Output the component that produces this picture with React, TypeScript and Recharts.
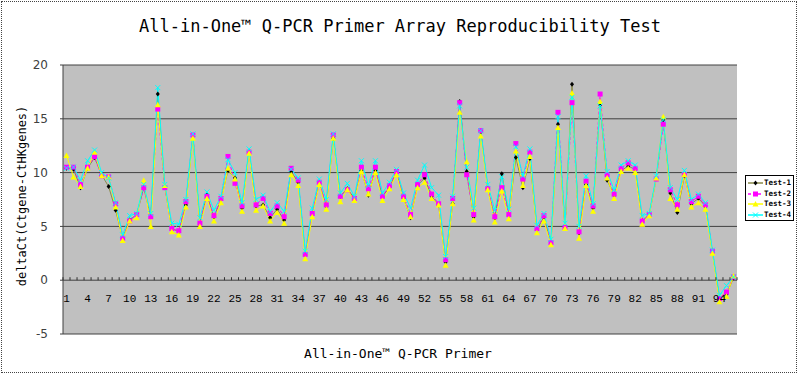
import { CartesianGrid, Line, LineChart, XAxis, YAxis } from "recharts";

const primers = Array.from({ length: 96 }, (_, i) => String(i + 1));

const test1 = [
  10.4, 10.3, 8.6, 10.4, 11.4, 9.8, 8.7, 6.5, 3.9, 5.6, 6.1, 8.6, 5.9, 17.3, 8.7, 4.8,
  4.5, 7.0, 13.4, 5.3, 7.9, 5.9, 7.5, 10.2, 9.5, 6.7, 12.0, 6.9, 7.0, 5.8, 6.6, 5.6,
  10.1, 9.1, 2.4, 6.2, 9.0, 6.9, 13.2, 7.8, 8.5, 7.6, 10.2, 7.9, 10.2, 7.8, 8.6, 10.1,
  7.6, 5.8, 8.8, 9.5, 7.8, 7.0, 1.7, 7.1, 16.6, 10.1, 5.9, 13.8, 8.5, 5.8, 9.9, 6.0,
  11.4, 8.6, 11.3, 4.7, 5.9, 3.4, 14.5, 4.8, 18.2, 4.4, 8.9, 6.7, 16.3, 9.3, 7.9, 10.2,
  10.6, 10.3, 5.5, 6.1, 9.5, 14.9, 8.1, 6.3, 9.7, 7.1, 7.6, 6.9, 2.6, -1.7, -1.3, 0.2,
];
const test2 = [
  10.5, 10.5, 8.9, 10.5, 11.5, 9.7, 9.6, 7.1, 3.9, 5.5, 6.1, 8.6, 5.9, 15.9, 8.6, 4.8,
  4.6, 7.3, 13.5, 5.3, 7.8, 6.0, 7.6, 11.5, 9.0, 6.9, 11.9, 7.0, 7.6, 6.2, 6.9, 5.9,
  10.4, 9.3, 2.4, 6.2, 9.1, 7.0, 13.5, 7.8, 8.4, 7.6, 10.5, 8.5, 10.5, 7.8, 8.8, 10.1,
  7.8, 6.1, 8.9, 9.8, 8.0, 7.1, 1.9, 7.6, 16.5, 9.8, 6.1, 13.9, 8.5, 5.9, 8.6, 6.1,
  12.7, 9.4, 11.9, 4.8, 6.0, 3.5, 15.6, 4.9, 16.5, 4.5, 9.2, 6.9, 17.3, 9.8, 8.0, 10.4,
  10.9, 10.4, 5.5, 6.1, 9.4, 14.5, 8.4, 7.0, 9.8, 7.3, 7.8, 7.0, 2.7, -1.7, -1.1, 0.3,
];
const test3 = [
  11.6, 9.6, 8.7, 10.4, 11.9, 9.7, 9.6, 6.8, 3.7, 5.5, 5.8, 9.3, 5.0, 16.3, 8.8, 4.5,
  4.2, 6.8, 13.2, 5.0, 7.6, 5.5, 7.2, 10.4, 9.4, 6.4, 11.8, 6.5, 6.9, 5.5, 6.3, 5.3,
  9.8, 8.8, 2.0, 5.9, 8.9, 6.6, 13.2, 7.3, 8.4, 7.4, 10.1, 8.0, 10.0, 7.4, 8.5, 9.8,
  7.5, 5.9, 8.6, 9.1, 7.6, 7.0, 1.4, 7.1, 15.6, 11.0, 5.6, 13.4, 8.4, 5.4, 8.3, 5.7,
  12.0, 8.8, 11.5, 4.4, 5.5, 3.3, 14.2, 4.8, 17.4, 3.9, 8.8, 6.4, 16.6, 9.5, 7.6, 10.1,
  10.4, 10.0, 5.2, 6.0, 9.5, 15.2, 7.6, 6.6, 9.8, 6.8, 7.2, 6.6, 2.5, -2.0, -1.5, 0.4,
];
const test4 = [
  10.4, 10.5, 9.3, 11.1, 12.1, 10.0, 9.5, 7.2, 4.2, 6.0, 6.2, 8.9, 6.2, 17.9, 8.9, 5.3,
  5.2, 7.5, 13.6, 5.8, 8.2, 6.5, 7.8, 11.2, 10.0, 7.2, 12.2, 7.5, 7.9, 6.4, 7.2, 6.4,
  10.3, 9.5, 2.7, 6.7, 9.4, 7.5, 13.6, 8.1, 9.0, 7.8, 11.1, 8.8, 11.1, 8.1, 9.1, 10.3,
  8.1, 6.7, 9.3, 10.7, 8.6, 7.9, 2.2, 7.8, 16.2, 10.5, 6.7, 13.9, 8.9, 6.5, 9.6, 6.6,
  12.4, 9.7, 12.2, 5.1, 6.2, 3.8, 15.2, 5.3, 17.0, 5.0, 9.7, 7.1, 16.2, 10.1, 8.4, 10.7,
  11.1, 10.7, 6.0, 6.2, 9.7, 14.9, 8.6, 7.5, 10.2, 7.5, 8.0, 7.2, 2.8, -1.4, -0.5, 0.3,
];

const yTicks = [-5, 0, 5, 10, 15, 20];

const data = primers.map((p, i) => ({
  primer: p,
  t1: test1[i],
  t2: test2[i],
  t3: test3[i],
  t4: test4[i],
}));

// layout
const PLOT_TOP = 65;
const PLOT_BOTTOM = 334;
const Y_ZERO = PLOT_TOP + ((PLOT_BOTTOM - PLOT_TOP) * 20) / 25;
const STEP = 7.02;

const series = [
  { key: "t1", name: "Test-1", color: "#8a8a4a", marker: "diamond", dash: undefined },
  { key: "t2", name: "Test-2", color: "#ff00ff", marker: "square", dash: "3 2" },
  { key: "t3", name: "Test-3", color: "#ffff00", marker: "triangle", dash: undefined },
  { key: "t4", name: "Test-4", color: "#00ffff", marker: "cross", dash: undefined },
];

function Marker({ kind, cx, cy }: { kind: string; cx: number; cy: number }) {
  if (cx == null || cy == null) return null;
  if (kind === "diamond")
    return (
      <path d={`M${cx},${cy - 2.5}L${cx + 2},${cy}L${cx},${cy + 2.5}L${cx - 2},${cy}Z`} fill="#000" />
    );
  if (kind === "square")
    return <rect x={cx - 2.5} y={cy - 2.5} width={5} height={5} fill="#ff00ff" />;
  if (kind === "triangle")
    return <path d={`M${cx},${cy - 3}L${cx + 3},${cy + 2.5}L${cx - 3},${cy + 2.5}Z`} fill="#ffff00" />;
  return (
    <path
      d={`M${cx - 2.5},${cy - 2.5}L${cx + 2.5},${cy + 2.5}M${cx + 2.5},${cy - 2.5}L${cx - 2.5},${cy + 2.5}`}
      stroke="#00ffff"
      strokeWidth={1}
    />
  );
}

function XTick(props: any) {
  const { x, index, payload } = props;
  const bx = x - STEP / 2;
  return (
    <g>
      <line x1={bx} x2={bx} y1={Y_ZERO} y2={Y_ZERO - 3} stroke="#303030" />
      {index === primers.length - 1 && (
        <line x1={x + STEP / 2} x2={x + STEP / 2} y1={Y_ZERO} y2={Y_ZERO - 3} stroke="#303030" />
      )}
      {index % 3 === 0 && (
        <text
          x={x}
          y={Y_ZERO + 22}
          textAnchor="middle"
          fontFamily="Liberation Mono"
          fontSize={11}
          fill="#000"
        >
          {payload.value}
        </text>
      )}
    </g>
  );
}

function LegendBox() {
  return (
    <div
      style={{
        position: "absolute",
        left: 745,
        top: 175,
        width: 49,
        height: 46,
        border: "1px solid #000",
        background: "#fff",
        boxSizing: "border-box",
        paddingTop: 2,
      }}
    >
      {series.map((s) => (
        <div
          key={s.key}
          style={{ display: "flex", alignItems: "center", height: 10.5, whiteSpace: "nowrap" }}
        >
          <svg width={18} height={10} style={{ flex: "none" }}>
            <line x1={2} x2={17} y1={5} y2={5} stroke={s.color} strokeWidth={1.5} strokeDasharray={s.dash} />
            <Marker kind={s.marker} cx={9.5} cy={5} />
          </svg>
          <span
            style={{
              fontFamily: "DejaVu Sans Mono",
              fontSize: 7.5,
              fontWeight: "bold",
              color: "#000",
              lineHeight: "10px",
            }}
          >
            {s.name}
          </span>
        </div>
      ))}
    </div>
  );
}

export default function App() {
  return (
    <div style={{ position: "absolute", left: 0, top: 0, width: 800, height: 378, background: "#fff" }}>
      <div
        style={{
          position: "absolute",
          left: 1,
          top: 1,
          width: 796,
          height: 372,
          border: "1px dotted #444",
          boxSizing: "border-box",
        }}
      />
      <div
        style={{
          position: "absolute",
          left: 0,
          top: 16,
          width: 800,
          textAlign: "center",
          fontFamily: "DejaVu Sans Mono",
          fontSize: 17,
          color: "#000",
        }}
      >
        All-in-One™ Q-PCR Primer Array Reproducibility Test
      </div>
      <div
        style={{
          position: "absolute",
          left: 22,
          top: 196,
          transform: "translate(-50%, -50%) rotate(-90deg)",
          whiteSpace: "nowrap",
          fontFamily: "DejaVu Sans Mono",
          fontSize: 12,
          color: "#000",
        }}
      >
        deltaCt(Ctgene-CtHKgenes)
      </div>
      <div
        style={{
          position: "absolute",
          left: 0,
          top: 346,
          width: 796,
          textAlign: "center",
          fontFamily: "DejaVu Sans Mono",
          fontSize: 13,
          color: "#000",
        }}
      >
        All-in-One™ Q-PCR Primer
      </div>
      <div style={{ position: "absolute", left: 0, top: 0 }}>
        <LineChart
          width={800}
          height={378}
          data={data}
          margin={{ top: PLOT_TOP, right: 63, bottom: 14, left: 13 }}
        >
          <CartesianGrid vertical={false} stroke="#404040" fill="#c0c0c0" fillOpacity={1} />
          <XAxis
            dataKey="primer"
            interval={0}
            height={30}
            axisLine={false}
            tickLine={false}
            padding={{ left: 3.5, right: 3.5 }}
            tick={<XTick />}
          />
          <YAxis
            domain={[-5, 20]}
            ticks={yTicks}
            width={50}
            axisLine={{ stroke: "#404040" }}
            tickLine={{ stroke: "#404040" }}
            tickSize={3}
            tickMargin={12}
            tick={{ fontSize: 12, fill: "#404040", fontFamily: "DejaVu Sans" }}
          />
          {series.map((s) => (
            <Line
              key={s.key}
              dataKey={s.key}
              name={s.name}
              stroke={s.color}
              strokeWidth={1}
              strokeDasharray={s.dash}
              isAnimationActive={false}
              dot={(p: any) => <Marker key={`${s.key}-${p.index}`} kind={s.marker} cx={p.cx} cy={p.cy} />}
              activeDot={false}
            />
          ))}
        </LineChart>
      </div>
      <LegendBox />
    </div>
  );
}
